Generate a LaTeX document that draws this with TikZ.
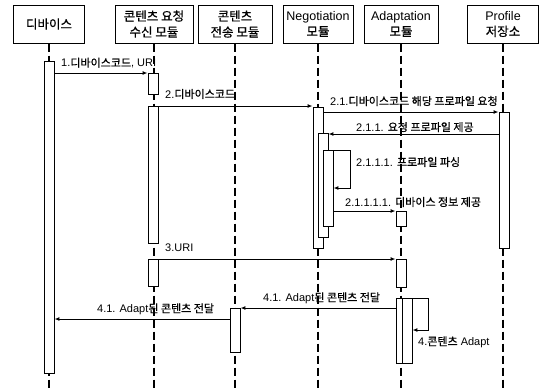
\documentclass[tikz,border=0pt]{standalone}
\usepackage{fontspec}
\setmainfont{Liberation Sans}
\newfontfamily\ko[RawFeature={embolden=0.7}]{Noto Sans CJK KR}
\usetikzlibrary{arrows.meta,fit}
\begin{document}
\begin{tikzpicture}[x=1pt,y=-1pt,
  head/.style={draw, line width=1pt, fill=white, minimum width=#1, minimum height=38pt,
    align=center, inner sep=0pt, font=\fontsize{12.5}{16}\selectfont},
  life/.style={line width=1.8pt, dash pattern=on 8pt off 4pt},
  act/.style={draw, line width=0.9pt, fill=white, inner sep=0pt},
  msg/.style={line width=1pt, -{Latex[length=5pt,width=4pt]}},
  lbl/.style={anchor=west, inner sep=0pt, font=\fontsize{11}{13}\selectfont}]
\useasboundingbox (0,0) rectangle (543,389);

% heads
\node[head=71pt] (dev) at (49,24) {{\ko 디바이스}};
\node[head=78pt] (req) at (154,24) {{\ko 콘텐츠 요청}\\{\ko 수신 모듈}};
\node[head=74pt] (snd) at (235,24) {{\ko 콘텐츠}\\{\ko 전송 모듈}};
\node[head=70pt] (neg) at (318,24) {Negotiation\\{\ko 모듈}};
\node[head=74pt] (ada) at (401,24) {Adaptation\\{\ko 모듈}};
\node[head=71pt] (pro) at (503,24) {Profile\\{\ko 저장소}};

% lifelines
\foreach \n in {dev,req,snd,neg,ada,pro}
  \draw[life] (\n.south) -- (\n.south |- 0,389);

% activation boxes
\node[act, fit={(44,61) (54,373)}] (a1) {};
\node[act, fit={(148,73) (158,94)}] (a2) {};
\node[act, fit={(148,106) (158,243)}] (a3) {};
\node[act, fit={(148,259) (158,286)}] (a4) {};
\node[act, fit={(230,308) (240,352)}] (b1) {};
\node[act, fit={(313,107) (323,248)}] (n1) {};
\node[act, fit={(318,133) (328,237)}] (n2) {};
\node[act, fit={(323,150) (333,226)}] (n3) {};
\node[act, fit={(499,112) (509,248)}] (p1) {};
\node[act, fit={(396,211) (406,226)}] (d1) {};
\node[act, fit={(396,259) (406,287)}] (d2) {};
\node[act, fit={(396,298) (406,363)}] (d3) {};
\node[act, fit={(402,298) (412,363)}] (d4) {};

\coordinate (lp1) at (350,188);
\coordinate (lp2) at (428,330);

% messages
\draw[msg] (a1.east |- 0,73) -- (a2.west |- 0,73);
\draw[msg] (a3.east |- 0,106) -- (n1.west |- 0,106);
\draw[msg] (n1.east |- 0,112) -- (p1.west |- 0,112);
\draw[msg] (p1.west |- 0,134) -- (n2.east |- 0,134);
\draw[msg] (n3.east |- 0,150) -| (lp1) -- (n3.east |- lp1);
\draw[msg] (n3.east |- 0,211) -- (d1.west |- 0,211);
\draw[msg] (a4.east |- 0,259) -- (d2.west |- 0,259);
\draw[msg] (d3.west |- 0,308) -- (b1.east |- 0,308);
\draw[msg] (b1.west |- 0,319) -- (a1.east |- 0,319);
\draw[msg] (d4.east |- 0,298) -| (lp2) -- (d4.east |- lp2);

% labels
\node[lbl] (l1) at (61,63) {1.{\ko 디바이스코드}, URI};
\node[lbl] (l2) at (165,94) {2.{\ko 디바이스코드}};
\node[lbl] (l21) at (330,101) {2.1.{\ko 디바이스코드 해당 프로파일 요청}};
\node[lbl] (l211) at (356,127) {2.1.1. {\ko 요청 프로파일 제공}};
\node[lbl] (l2111) at (356,162) {2.1.1.1. {\ko 프로파일 파싱}};
\node[lbl] (l21111) at (345,202) {2.1.1.1.1. {\ko 디바이스 정보 제공}};
\node[lbl] (l3) at (165,248) {3.URI};
\node[lbl] (l41a) at (263,298) {4.1. Adapt{\ko 된 콘텐츠 전달}};
\node[lbl] (l41b) at (97,309) {4.1. Adapt{\ko 된 콘텐츠 전달}};
\node[lbl] (l4) at (418,342) {4.{\ko 콘텐츠} Adapt};
\end{tikzpicture}
\end{document}
